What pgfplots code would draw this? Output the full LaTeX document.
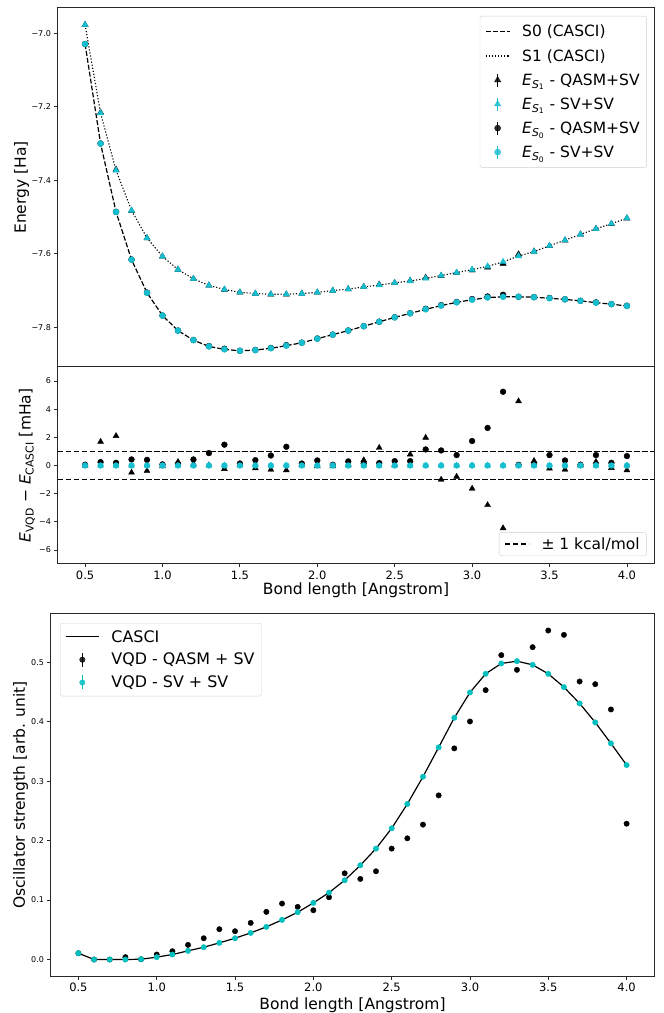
\documentclass[border=0pt]{standalone}
\usepackage{fontspec}
\setmainfont{DejaVu Sans}
\usepackage{pgfplots}
\usepackage{pgfplotstable}
\pgfplotsset{compat=1.18}
\definecolor{tabcyan}{RGB}{23,190,207}
\definecolor{mcyan}{RGB}{0,191,191}
\definecolor{frame}{RGB}{40,40,40}

\pgfplotstableread{
x s0 s1 d0 d1 z
0.5 -7.029 -6.977 0.05 0.00 0
0.6 -7.300 -7.217 0.24 1.69 0
0.7 -7.486 -7.373 0.19 2.10 0
0.8 -7.616 -7.482 0.43 -0.50 0
0.9 -7.706 -7.557 0.40 -0.38 0
1.0 -7.768 -7.607 0.08 -0.05 0
1.1 -7.809 -7.643 0.10 0.26 0
1.2 -7.835 -7.668 0.43 0.12 0
1.3 -7.852 -7.686 0.88 0.02 0
1.4 -7.860 -7.697 1.48 -0.24 0
1.5 -7.864 -7.705 0.14 0.08 0
1.6 -7.862 -7.708 0.38 -0.19 0
1.7 -7.857 -7.710 0.71 -0.29 0
1.8 -7.850 -7.710 1.33 -0.33 0
1.9 -7.842 -7.708 0.14 0.03 0
2.0 -7.831 -7.705 0.36 -0.05 0
2.1 -7.820 -7.700 0.05 -0.05 0
2.2 -7.809 -7.696 0.29 0.05 0
2.3 -7.797 -7.690 0.14 0.38 0
2.4 -7.785 -7.685 0.17 1.26 0
2.5 -7.773 -7.679 0.31 0.03 0
2.6 -7.762 -7.674 0.31 0.79 0
2.7 -7.751 -7.667 1.14 1.98 0
2.8 -7.741 -7.659 1.07 -1.00 0
2.9 -7.732 -7.651 0.74 -0.79 0
3.0 -7.725 -7.643 1.74 -1.64 0
3.1 -7.719 -7.634 2.67 -2.81 0
3.2 -7.717 -7.622 5.24 -4.45 0
3.3 -7.717 -7.606 0.05 4.57 0
3.4 -7.718 -7.594 0.10 0.33 0
3.5 -7.721 -7.578 0.74 -0.21 0
3.6 -7.724 -7.563 0.36 -0.29 0
3.7 -7.728 -7.547 0.05 0.02 0
3.8 -7.733 -7.532 0.74 0.26 0
3.9 -7.737 -7.518 0.19 -0.17 0
4.0 -7.742 -7.503 0.67 -0.33 0
}\energy

\pgfplotstableread{
x fc fq
0.5 0.0106 0.0106
0.6 0.0000 0.0000
0.7 0.0000 0.0000
0.8 0.0000 0.0040
0.9 0.0005 0.0005
1.0 0.0040 0.0084
1.1 0.0084 0.0140
1.2 0.0146 0.0246
1.3 0.0207 0.0358
1.4 0.0280 0.0510
1.5 0.0358 0.0476
1.6 0.0448 0.0616
1.7 0.0549 0.0801
1.8 0.0666 0.0941
1.9 0.0795 0.0885
2.0 0.0952 0.0829
2.1 0.1125 0.1047
2.2 0.1333 0.1450
2.3 0.1585 0.1355
2.4 0.1865 0.1484
2.5 0.2206 0.1865
2.6 0.2615 0.2038
2.7 0.3074 0.2268
2.8 0.3567 0.2760
2.9 0.4065 0.3550
3.0 0.4490 0.4003
3.1 0.4804 0.4530
3.2 0.4978 0.5118
3.3 0.5017 0.4871
3.4 0.4955 0.5252
3.5 0.4804 0.5532
3.6 0.4580 0.5459
3.7 0.4306 0.4675
3.8 0.3987 0.4630
3.9 0.3634 0.4205
4.0 0.3270 0.2284
}\osc

\newcommand{\ES}[1]{\textit{E}\textsubscript{\textit{S}\textsubscript{#1}}}
\newcommand{\bigf}{\fontsize{15.5}{18}\selectfont}

\pgfplotsset{
  base/.style={
    scale only axis,
    xmin=0.325, xmax=4.175,
    tick align=outside,
    tick pos=left,
    major tick length=3.5pt,
    axis line style={line width=1pt, frame},
    every tick/.style={frame, line width=0.8pt},
    label style={font=\bigf},
    xticklabel style={font=\fontsize{11.5}{13}\selectfont},
    yticklabel style={font=\fontsize{8}{9}\selectfont},
    /pgf/number format/assume math mode=true,
    legend cell align=left,
    legend style={font=\bigf, draw=black!18, rounded corners=2.5pt, fill=white, fill opacity=0.8, text opacity=1,
      inner xsep=5pt, inner ysep=7pt, row sep=7pt,
      /tikz/every odd column/.append style={column sep=10pt}},
  },
  linelegA/.style={legend image code/.code={\draw[##1] (0pt,0pt) -- (24pt,0pt);}},
  linelegB/.style={legend image code/.code={\draw[##1] (0pt,0pt) -- (33pt,0pt);}},
  errlegA/.style={legend image code/.code={\draw[##1, solid, line width=1.3pt] (12pt,-6.5pt) -- (12pt,6.5pt); \draw[##1] plot coordinates {(12pt,0pt)};}},
  errlegB/.style={legend image code/.code={\draw[##1, solid, line width=1.3pt] (16.5pt,-7pt) -- (16.5pt,7pt); \draw[##1] plot coordinates {(16.5pt,0pt)};}},
}

\begin{document}
\begin{tikzpicture}[x=1pt,y=1pt]
\useasboundingbox (0,0) rectangle (664,1013);

% ---------------- top panel ----------------
\begin{axis}[base,
  at={(58pt,646pt)}, anchor=south west,
  width=596pt, height=359pt,
  ymin=-7.908, ymax=-6.931,
  xtick=\empty,
  ytick={-7.8,-7.6,-7.4,-7.2,-7.0},
  yticklabels={−7.8,−7.6,−7.4,−7.2,−7.0},
  ylabel={Energy [Ha]},
  ylabel style={at={(axis description cs:-0.0612,0.5)}, anchor=center},
  legend style={at={(0.988,0.978)}, anchor=north east},
]
\addplot[black, line width=1.2pt, dash pattern=on 5pt off 2pt, linelegA]
  table[x=x, y=s0]{\energy};
\addlegendentry{S0 (CASCI)}
\addplot[black, line width=1.1pt, dash pattern=on 1.2pt off 1.9pt, linelegA]
  table[x=x, y=s1]{\energy};
\addlegendentry{S1 (CASCI)}
\addplot[only marks, black, mark=triangle*, mark size=3.6pt, mark options={solid, draw=none, fill=black}, errlegA]
  table[x=x, y expr=\thisrow{s1}+\thisrow{d1}/1000]{\energy};
\addlegendentry{\ES{1} - QASM+SV}
\addplot[only marks, tabcyan, mark=triangle*, mark size=3.6pt, mark options={solid, draw=none, fill=tabcyan}, errlegA]
  table[x=x, y expr=\thisrow{s1}+\thisrow{z}/1000]{\energy};
\addlegendentry{\ES{1} - SV+SV}
\addplot[only marks, black, mark=*, mark size=3pt, mark options={solid, draw=none, fill=black}, errlegA]
  table[x=x, y expr=\thisrow{s0}+\thisrow{d0}/1000]{\energy};
\addlegendentry{\ES{0} - QASM+SV}
\addplot[only marks, tabcyan, mark=*, mark size=3pt, mark options={solid, draw=none, fill=tabcyan}, errlegA]
  table[x=x, y expr=\thisrow{s0}+\thisrow{z}/1000]{\energy};
\addlegendentry{\ES{0} - SV+SV}
\end{axis}

% ---------------- middle panel ----------------
\begin{axis}[base,
  at={(58pt,449pt)}, anchor=south west,
  width=596pt, height=197pt,
  ymin=-7, ymax=7,
  xtick={0.5,1,1.5,2,2.5,3,3.5,4},
  xticklabels={0.5,1.0,1.5,2.0,2.5,3.0,3.5,4.0},
  ytick={-6,-4,-2,0,2,4,6},
  yticklabels={−6,−4,−2,0,2,4,6},
  xlabel={Bond length [Angstrom]},
  xlabel style={at={(axis description cs:0.5,-0.155)}, anchor=base},
  ylabel={\textit{E}\textsubscript{VQD} − \textit{E}\textsubscript{CASCI} [mHa]},
  ylabel style={at={(axis description cs:-0.052,0.5)}, anchor=center},
  legend style={at={(0.988,0.041)}, anchor=south east, inner ysep=3pt},
]
\addplot[black, line width=1.4pt, dash pattern=on 5.5pt off 2.5pt, linelegA]
  coordinates {(0.325,1) (4.175,1)};
\addlegendentry{± 1 kcal/mol}
\addplot[black, line width=1.4pt, dash pattern=on 5.5pt off 2.5pt, forget plot]
  coordinates {(0.325,-1) (4.175,-1)};
\addplot[only marks, black, mark=triangle*, mark size=3.4pt, mark options={draw=none, fill=black}, forget plot]
  table[x=x, y=d1]{\energy};
\addplot[only marks, tabcyan, mark=triangle*, mark size=3.4pt, mark options={draw=none, fill=tabcyan}, forget plot]
  table[x=x, y=z]{\energy};
\addplot[only marks, black, mark=*, mark size=2.9pt, mark options={draw=none, fill=black}, forget plot]
  table[x=x, y=d0]{\energy};
\addplot[only marks, tabcyan, mark=*, mark size=2.9pt, mark options={draw=none, fill=tabcyan}, forget plot]
  table[x=x, y=z]{\energy};
\end{axis}

% ---------------- bottom panel ----------------
\begin{axis}[base,
  at={(51pt,37pt)}, anchor=south west,
  width=603pt, height=362pt,
  ymin=-0.0277, ymax=0.581,
  xtick={0.5,1,1.5,2,2.5,3,3.5,4},
  xticklabels={0.5,1.0,1.5,2.0,2.5,3.0,3.5,4.0},
  ytick={0,0.1,0.2,0.3,0.4,0.5},
  yticklabels={0.0,0.1,0.2,0.3,0.4,0.5},
  xlabel={Bond length [Angstrom]},
  xlabel style={at={(axis description cs:0.5,-0.0912)}, anchor=base},
  ylabel={Oscillator strength [arb. unit]},
  ylabel style={at={(axis description cs:-0.0506,0.5)}, anchor=center},
  legend style={at={(0.015,0.975)}, anchor=north west, font=\fontsize{15.9}{18}\selectfont, row sep=5.5pt, inner ysep=5pt},
]
\addplot[black, line width=1.2pt, linelegB]
  table[x=x, y=fc]{\osc};
\addlegendentry{CASCI}
\addplot[only marks, black, mark=*, mark size=2.7pt, mark options={draw=none, fill=black}, errlegB]
  table[x=x, y=fq]{\osc};
\addlegendentry{VQD - QASM + SV}
\addplot[only marks, mcyan, mark=*, mark size=2.7pt, mark options={draw=none, fill=mcyan}, errlegB]
  table[x=x, y=fc]{\osc};
\addlegendentry{VQD - SV + SV}
\end{axis}
\end{tikzpicture}
\end{document}
